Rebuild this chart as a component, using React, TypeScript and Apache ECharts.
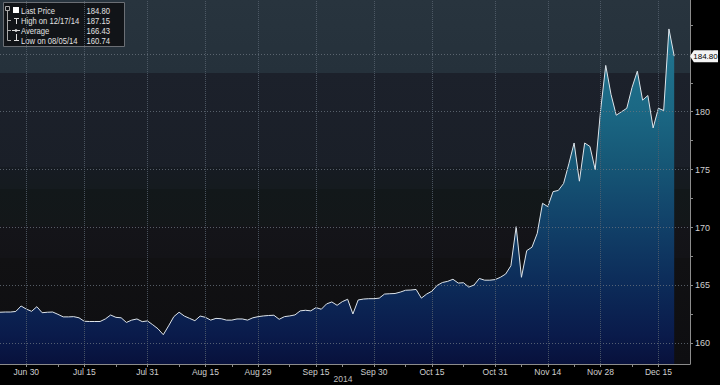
import React, { useEffect, useRef } from "react";
import * as echarts from "echarts";

// Weekday dates (2014), Jun 23 .. Dec 23
const dates: string[] = [
  "6/23", "6/24", "6/25", "6/26", "6/27", "6/30",
  "7/1", "7/2", "7/3", "7/4", "7/7", "7/8", "7/9", "7/10", "7/11",
  "7/14", "7/15", "7/16", "7/17", "7/18", "7/21", "7/22", "7/23", "7/24", "7/25",
  "7/28", "7/29", "7/30", "7/31", "8/1",
  "8/4", "8/5", "8/6", "8/7", "8/8", "8/11", "8/12", "8/13", "8/14", "8/15",
  "8/18", "8/19", "8/20", "8/21", "8/22", "8/25", "8/26", "8/27", "8/28", "8/29",
  "9/1", "9/2", "9/3", "9/4", "9/5", "9/8", "9/9", "9/10", "9/11", "9/12",
  "9/15", "9/16", "9/17", "9/18", "9/19", "9/22", "9/23", "9/24", "9/25", "9/26",
  "9/29", "9/30", "10/1", "10/2", "10/3",
  "10/6", "10/7", "10/8", "10/9", "10/10", "10/13", "10/14", "10/15", "10/16", "10/17",
  "10/20", "10/21", "10/22", "10/23", "10/24", "10/27", "10/28", "10/29", "10/30", "10/31",
  "11/3", "11/4", "11/5", "11/6", "11/7", "11/10", "11/11", "11/12", "11/13", "11/14",
  "11/17", "11/18", "11/19", "11/20", "11/21", "11/24", "11/25", "11/26", "11/27", "11/28",
  "12/1", "12/2", "12/3", "12/4", "12/5", "12/8", "12/9", "12/10", "12/11", "12/12",
  "12/15", "12/16", "12/17", "12/18", "12/19", "12/22", "12/23",
];

// Last price per trading day (Jun 23 .. Dec 18)
const closes: number[] = [
  162.68, 162.7, 162.7, 162.75, 163.22, 162.95, 162.76, 163.16, 162.64, 162.68,
  162.7, 162.5, 162.28, 162.28, 162.3, 162.2, 161.9, 161.88, 161.88, 161.88,
  162.1, 162.44, 162.24, 162.2, 161.8, 162.0, 162.1, 161.87, 161.93, 161.6,
  161.25, 160.74, 161.5, 162.3, 162.68, 162.35, 162.15, 161.95, 162.35, 162.24,
  162.0, 162.15, 162.12, 162.0, 162.0, 162.1, 162.1, 162.0, 162.2, 162.3,
  162.36, 162.4, 162.42, 162.07, 162.3, 162.36, 162.45, 162.8, 162.85, 162.8,
  163.08, 162.94, 163.4, 163.57, 163.28, 163.6, 163.8, 162.53, 163.74, 163.82,
  163.85, 163.85, 163.9, 164.25, 164.28, 164.3, 164.42, 164.58, 164.6, 164.65,
  163.9, 164.25, 164.5, 165.0, 165.25, 165.35, 165.53, 165.2, 165.23, 164.85,
  165.03, 165.6, 165.45, 165.45, 165.5, 165.7, 165.98, 166.7, 170.07, 165.7,
  168.0, 168.3, 169.5, 172.09, 171.8, 173.1, 173.2, 173.8, 175.5, 177.3,
  174.0, 177.3, 177.0, 175.0, 180.0, 184.0, 181.5, 179.7, 180.0, 180.3,
  182.1, 183.5, 181.0, 181.4, 178.6, 180.3, 180.1, 187.15, 184.8,
];

const xTickLabels: Record<string, string> = {
  "6/30": "Jun 30", "7/15": "Jul 15", "7/31": "Jul 31", "8/15": "Aug 15",
  "8/29": "Aug 29", "9/15": "Sep 15", "9/30": "Sep 30", "10/15": "Oct 15",
  "10/31": "Oct 31", "11/14": "Nov 14", "11/28": "Nov 28", "12/15": "Dec 15",
};
const xMinorTicks: string[] = [
  "7/8", "7/23", "8/8", "8/22", "9/8", "9/22", "10/8", "10/23", "11/7", "11/21", "12/8",
];
const yLabelValues: number[] = [160, 165, 170, 175, 180];
const yMinorTickValues: number[] = [160, 162.5, 165, 167.5, 170, 172.5, 175, 177.5, 180, 182.5, 185, 187.5];
const yGridValues: number[] = [160, 165, 170, 175, 180, 185];
const yearLabel = "2014";

const legendRows = [
  { label: "Last Price", value: "184.80" },
  { label: "High on 12/17/14", value: "187.15" },
  { label: "Average", value: "166.43" },
  { label: "Low on 08/05/14", value: "160.74" },
];
const lastPrice = 184.8;

const FONT = '"Liberation Sans Narrow", "Liberation Sans", Arial, sans-serif';

export default function App() {
  const ref = useRef<HTMLDivElement>(null);

  useEffect(() => {
    if (!ref.current) return;
    const chart = echarts.init(ref.current, null, { renderer: "svg" });

    const bg = new echarts.graphic.LinearGradient(0, 0, 0, 1, [
      { offset: 0, color: "#28343e" },
      { offset: 0.2, color: "#25313b" },
      { offset: 0.2, color: "#1c212b" },
      { offset: 0.46, color: "#1a1f28" },
      { offset: 0.46, color: "#161b22" },
      { offset: 0.52, color: "#151b1f" },
      { offset: 0.52, color: "#12181a" },
      { offset: 0.62, color: "#131719" },
      { offset: 0.62, color: "#141419" },
      { offset: 0.71, color: "#131317" },
      { offset: 0.71, color: "#111113" },
      { offset: 1, color: "#0e0e11" },
    ]);

    const areaGrad = {
      type: "linear",
      x: 0,
      y: 0,
      x2: 0,
      y2: 364,
      global: true,
      colorStops: [
        { offset: 0, color: "#247c96" },
        { offset: 0.3, color: "#1b6884" },
        { offset: 0.45, color: "#165776" },
        { offset: 0.62, color: "#114068" },
        { offset: 0.79, color: "#0c2a58" },
        { offset: 0.92, color: "#0a1b4b" },
        { offset: 1, color: "#08113c" },
      ],
    };

    const gridLineStyle = { type: [1, 2] as any, color: "#6c7580", width: 1, opacity: 0.75 };

    const legendChildren: any[] = [
      {
        type: "rect",
        shape: { x: 3.5, y: 2.5, width: 121, height: 44 },
        style: { fill: "rgba(16,18,22,0.94)", stroke: "#6b6f75", lineWidth: 1 },
      },
      { type: "rect", shape: { x: 5.5, y: 6.5, width: 4, height: 4 }, style: { fill: "none", stroke: "#aaa", lineWidth: 1 } },
      { type: "line", shape: { x1: 7.5, y1: 11, x2: 7.5, y2: 40.5 }, style: { stroke: "#aaa", lineWidth: 1 } },
      { type: "line", shape: { x1: 7.5, y1: 20.5, x2: 11, y2: 20.5 }, style: { stroke: "#aaa", lineWidth: 1 } },
      { type: "line", shape: { x1: 7.5, y1: 30.5, x2: 11, y2: 30.5 }, style: { stroke: "#aaa", lineWidth: 1 } },
      { type: "line", shape: { x1: 7.5, y1: 40.5, x2: 11, y2: 40.5 }, style: { stroke: "#aaa", lineWidth: 1 } },
      // icons
      { type: "rect", shape: { x: 13, y: 7, width: 6, height: 6 }, style: { fill: "#ffffff" } },
      { type: "line", shape: { x1: 14, y1: 18.5, x2: 19, y2: 18.5 }, style: { stroke: "#ddd", lineWidth: 1 } },
      { type: "line", shape: { x1: 16.5, y1: 18.5, x2: 16.5, y2: 24 }, style: { stroke: "#ddd", lineWidth: 1 } },
      { type: "line", shape: { x1: 12, y1: 30.5, x2: 20, y2: 30.5 }, style: { stroke: "#ddd", lineWidth: 1 } },
      { type: "circle", shape: { cx: 16, cy: 30.5, r: 1.3 }, style: { fill: "#ddd" } },
      { type: "line", shape: { x1: 16.5, y1: 34, x2: 16.5, y2: 40 }, style: { stroke: "#ddd", lineWidth: 1 } },
      { type: "line", shape: { x1: 14, y1: 40.5, x2: 19, y2: 40.5 }, style: { stroke: "#ddd", lineWidth: 1 } },
    ];
    const rowY = [10.7, 20.7, 30.4, 40.3];
    legendRows.forEach((r, i) => {
      legendChildren.push({
        type: "text",
        x: 21,
        y: rowY[i],
        scaleX: 0.85,
        style: { text: r.label, fill: "#e2e2e2", font: `9px ${FONT}`, textVerticalAlign: "middle", textAlign: "left" },
      });
      legendChildren.push({
        type: "text",
        x: 110,
        y: rowY[i],
        scaleX: 0.85,
        style: { text: r.value, fill: "#e2e2e2", font: `9px ${FONT}`, textVerticalAlign: "middle", textAlign: "right" },
      });
    });

    chart.setOption({
      animation: false,
      backgroundColor: "#000000",
      textStyle: { fontFamily: FONT },
      grid: {
        left: 0,
        top: 0,
        right: 30,
        bottom: 21,
        show: true,
        backgroundColor: bg,
        borderWidth: 0,
      },
      xAxis: {
        type: "category",
        data: dates,
        boundaryGap: false,
        axisLine: { show: true, lineStyle: { color: "#8c8c8c", width: 1 } },
        axisTick: {
          show: true,
          length: 3,
          lineStyle: { color: "#8c8c8c" },
          interval: (_i: number, v: string) => v in xTickLabels || xMinorTicks.includes(v),
        },
        axisLabel: {
          color: "#cfcfcf",
          fontSize: 8.5,
          fontFamily: FONT,
          margin: 3,
          interval: (_i: number, v: string) => v in xTickLabels,
          formatter: (v: string) => xTickLabels[v] || "",
        },
        splitLine: { show: false },
      },
      yAxis: {
        type: "value",
        position: "right",
        min: 158.21,
        max: 189.65,
        axisLine: { show: true, lineStyle: { color: "#8c8c8c", width: 1 } },
        axisTick: { show: true, length: 3, customValues: yMinorTickValues, lineStyle: { color: "#8c8c8c" } },
        axisLabel: {
          color: "#cfcfcf",
          fontSize: 9,
          fontFamily: FONT,
          margin: 5,
          customValues: yLabelValues,
        },
        splitLine: { show: false },
      },
      series: [
        {
          type: "line",
          data: closes,
          showSymbol: false,
          symbol: "none",
          lineStyle: { color: "#dde4ea", width: 1 },
          areaStyle: { color: areaGrad, opacity: 1 },
          markLine: {
            silent: true,
            symbol: ["none", "none"],
            label: { show: false },
            lineStyle: gridLineStyle,
            data: [
              ...yGridValues.map((v) => ({ yAxis: v })),
              ...Object.keys(xTickLabels).map((d) => ({ xAxis: d, lineStyle: { type: [1, 1], color: "#56626e", opacity: 0.8 } })),
            ],
          },
          markPoint: {
            silent: true,
            symbol: "path://M0,6L4,0L29,0L29,12L4,12Z",
            symbolSize: [28, 12],
            symbolKeepAspect: false,
            symbolOffset: [14, 0],
            itemStyle: { color: "#f4f4f4" },
            label: {
              show: true,
              position: "inside",
              color: "#000",
              fontSize: 8,
              fontFamily: FONT,
              offset: [1.5, 0],
              formatter: () => lastPrice.toFixed(2),
            },
            data: [{ coord: [dates[dates.length - 1], lastPrice] }],
          },
        },
      ],
      graphic: [
        {
          type: "text",
          x: 343,
          y: 379,
          style: { text: yearLabel, fill: "#bdbdbd", font: `8.5px ${FONT}`, textAlign: "center", textVerticalAlign: "middle" },
        },
        { type: "group", children: legendChildren, z: 100 },
      ],
    });

    return () => chart.dispose();
  }, []);

  return (
    <div
      ref={ref}
      style={{ position: "absolute", left: 0, top: 0, width: 720, height: 385, background: "#000" }}
    />
  );
}
